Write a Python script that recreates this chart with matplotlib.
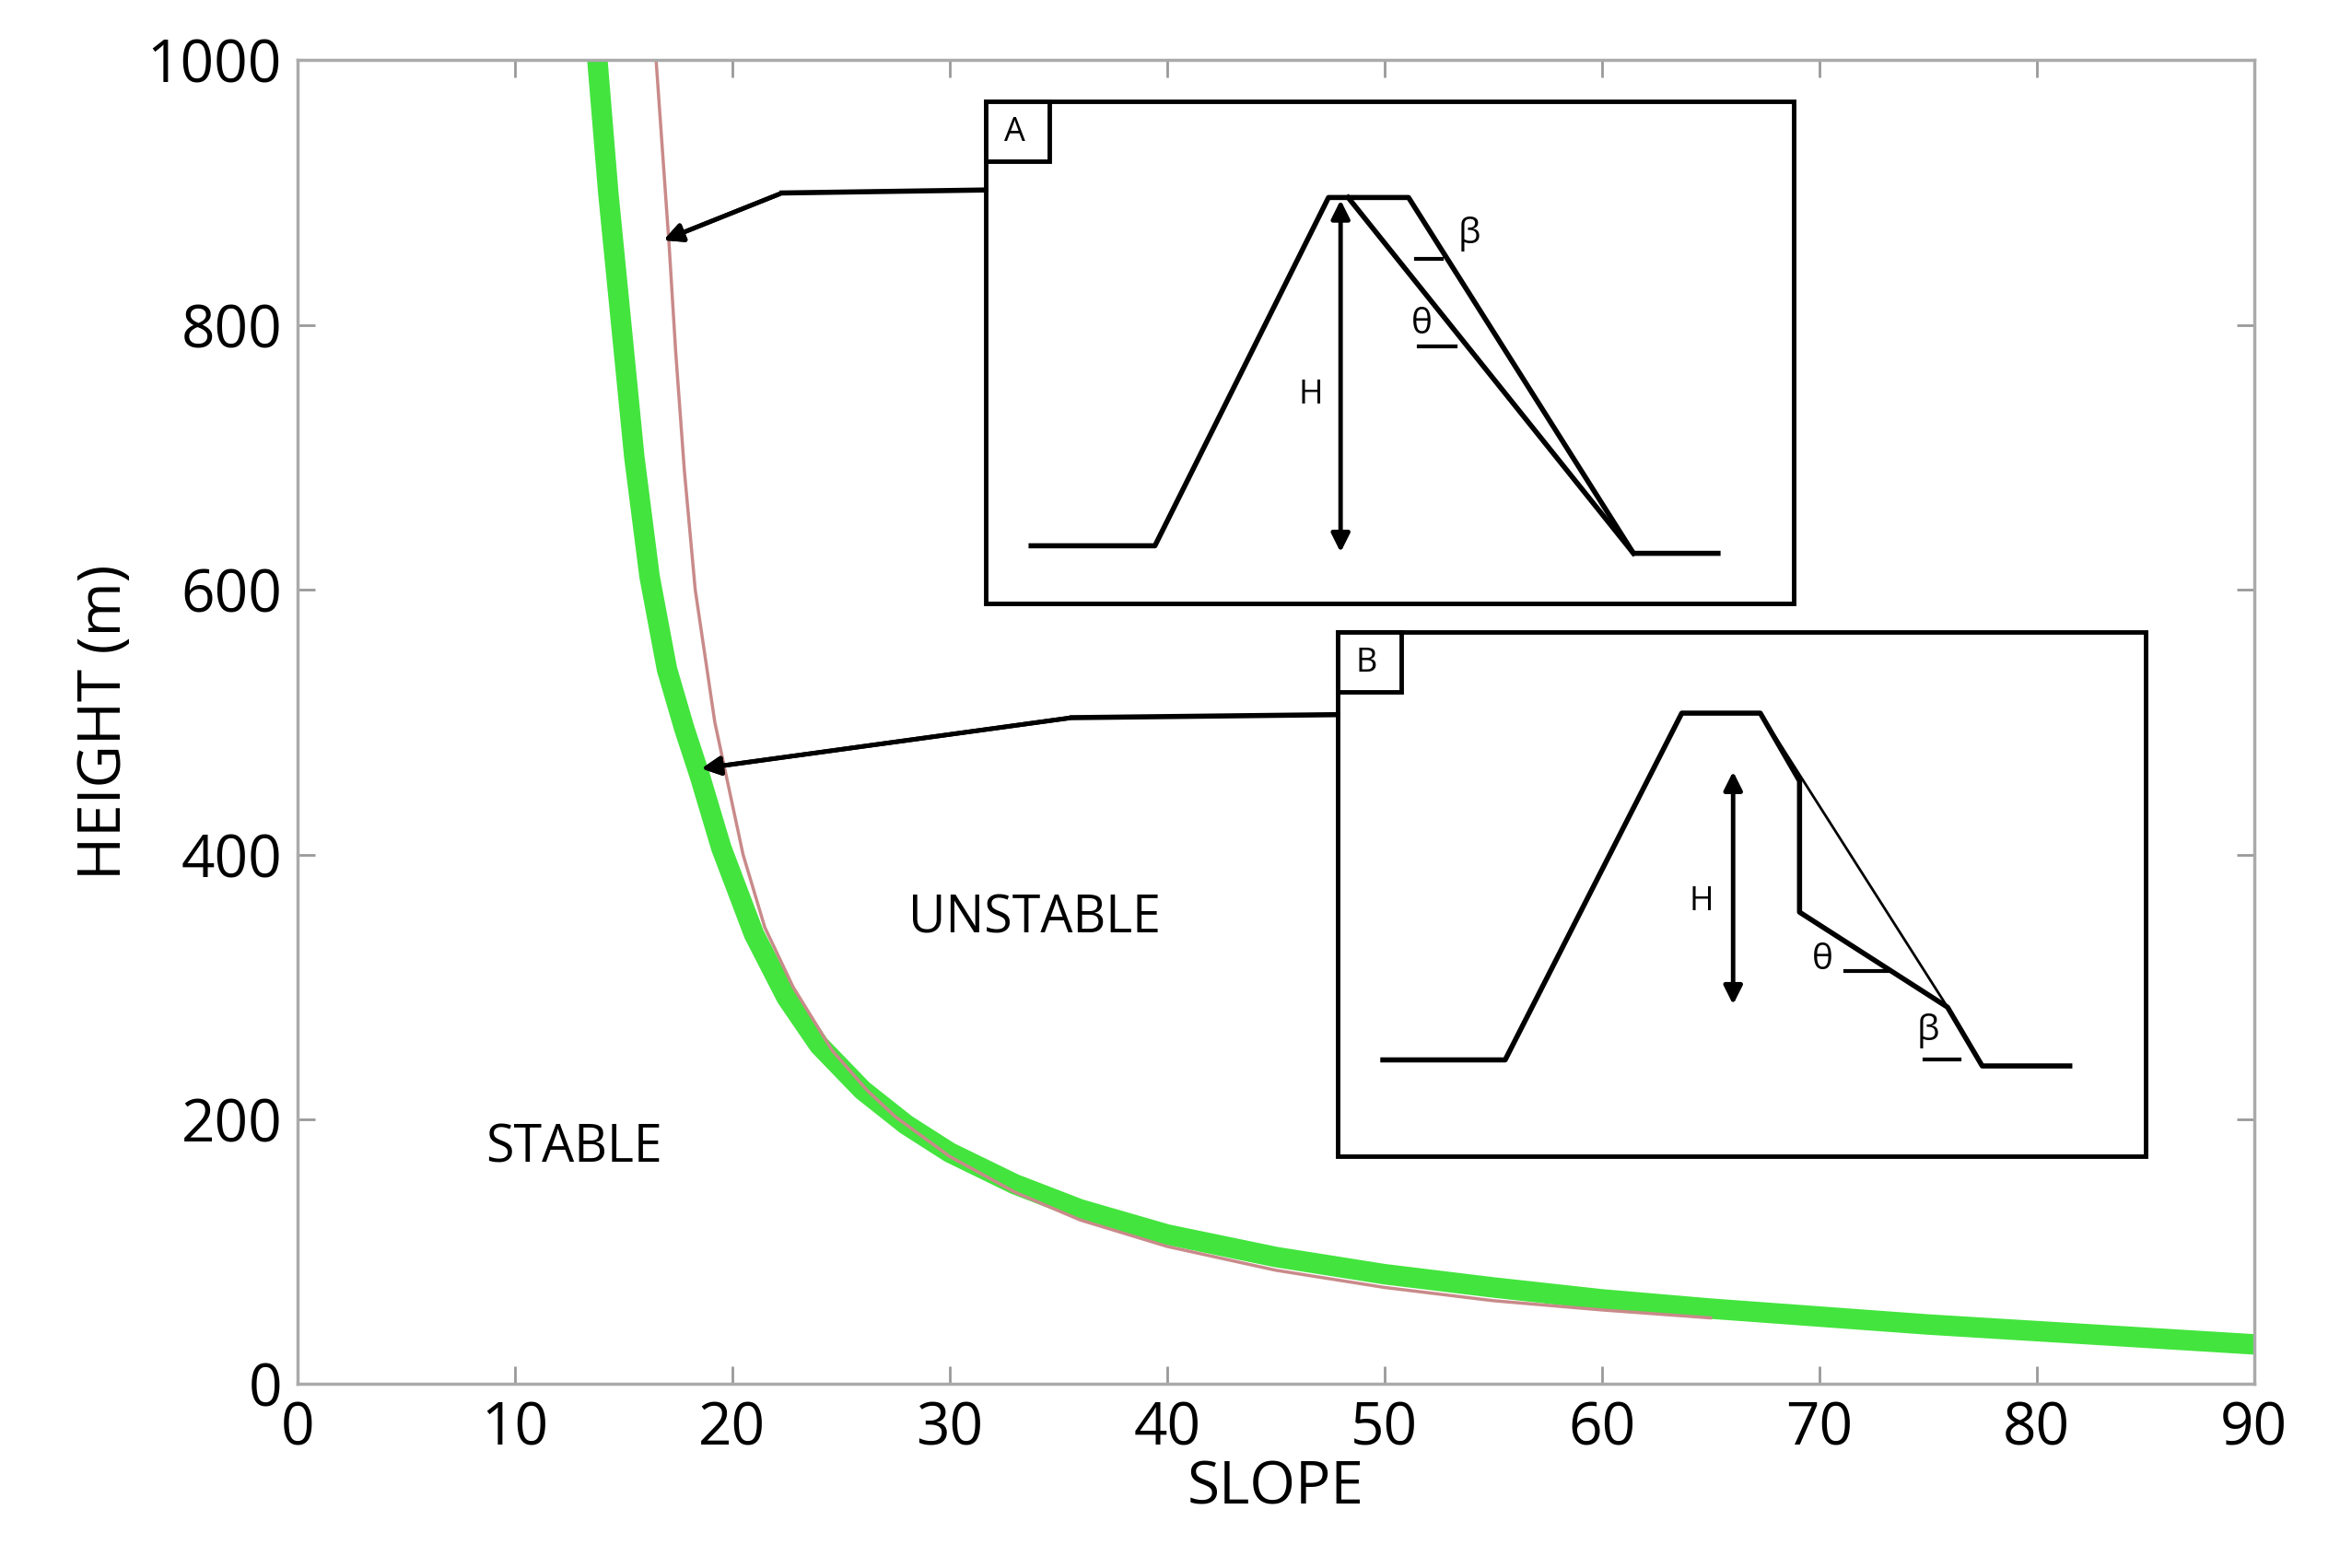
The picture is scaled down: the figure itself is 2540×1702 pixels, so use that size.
import matplotlib.pyplot as plt
import numpy as np

# curve readings (slope deg, height m)
green_slope = [13.8, 14.3, 14.9, 15.5, 16.2, 17.0, 17.8, 18.5, 19.5, 21, 22.5, 24, 26, 28, 30, 33, 36, 40, 45, 50, 55, 60, 65, 70, 75, 80, 85, 90]
green_height = [1000, 900, 800, 700, 610, 540, 495, 460, 405, 340, 292, 256, 222, 196, 175, 151, 132, 113, 96, 83, 73, 64, 57, 51, 45, 40, 35, 30]
red_slope = [16.5, 16.8, 17.1, 17.4, 17.8, 18.3, 19.2, 20.5, 21.5, 22.8, 24.6, 26.2, 27.5, 30, 33, 36, 40, 45, 50, 55, 60, 65]
red_height = [1000, 930, 860, 780, 690, 600, 500, 400, 345, 300, 252, 222, 202, 172, 145, 124, 104, 86, 73, 63, 56, 50]

xticks = [0, 10, 20, 30, 40, 50, 60, 70, 80, 90]
yticks = [0, 200, 400, 600, 800, 1000]

# inset diagrams, reference pixel coords (1550x1040 scale)
a_box = (653, 67, 1188, 400)
a_profile = [(683, 362), (765, 362), (880, 131), (933, 131), (1082, 367), (1138, 367)]
a_inner = [(893, 131), (1082, 367)]
b_box = (886, 419, 1421, 767)
b_profile = [(916, 703), (997, 703), (1114, 473), (1166, 473), (1192, 518), (1192, 605), (1290, 668), (1313, 707), (1371, 707)]
b_thin = [(1166, 473), (1290, 668)]

W, H = 1550.0, 1040.0
def fx(px): return px / W
def fy(py): return 1 - py / H

fig = plt.figure(figsize=(25.4, 17.02), dpi=100)
plt.rcParams['font.family'] = ['Open Sans', 'DejaVu Sans']
ax = fig.add_axes([fx(197), fy(918), fx(1493) - fx(197), fy(40) - fy(918)])
ax.plot(green_slope, green_height, color='#22e01c', lw=16, alpha=0.85, solid_capstyle='butt', solid_joinstyle='round')
ax.plot(red_slope, red_height, color='#c98a8a', lw=2.5)
ax.set_xlim(0, 90)
ax.set_ylim(0, 1000)
ax.set_xticks(xticks)
ax.set_yticks(yticks)
ax.tick_params(direction='in', length=14, width=2, color='#999999', labelsize=46, top=True, right=True, pad=12)
for s in ax.spines.values():
    s.set_color('#aaaaaa')
    s.set_linewidth(2.5)
ax.set_xlabel('SLOPE', fontsize=46, labelpad=0)
ax.set_ylabel('HEIGHT (m)', fontsize=46, labelpad=10)
ax.text(12.7, 178, 'STABLE', fontsize=40, ha='center', va='center')
ax.text(33.9, 351, 'UNSTABLE', fontsize=40, ha='center', va='center')

def pts(lst):
    return [fx(p[0]) for p in lst], [fy(p[1]) for p in lst]

def box(b, label):
    x0, y0, x1, y1 = b
    fig.patches.append(plt.Rectangle((fx(x0), fy(y1)), fx(x1) - fx(x0), fy(y0) - fy(y1),
                                     transform=fig.transFigure, fc='white', ec='black', lw=3.5))
    fig.patches.append(plt.Rectangle((fx(x0), fy(y0 + 40)), fx(42), fy(y0) - fy(y0 + 40),
                                     transform=fig.transFigure, fc='white', ec='black', lw=3.5))
    fig.text(fx(x0 + 19), fy(y0 + 21), label, fontsize=26, ha='center', va='center')

def line(lst, lw=4):
    xs, ys = pts(lst)
    fig.add_artist(plt.Line2D(xs, ys, transform=fig.transFigure, color='black', lw=lw))

def darrow(x, y0, y1):
    fig.add_artist(plt.annotate('', xy=(fx(x), fy(y1)), xytext=(fx(x), fy(y0)), xycoords='figure fraction',
                                arrowprops=dict(arrowstyle='<|-|>', lw=3.5, color='black', mutation_scale=30)))

def note(lst):
    # polyline ending in arrowhead
    line(lst[:-1])
    fig.add_artist(plt.annotate('', xy=(fx(lst[-1][0]), fy(lst[-1][1])), xytext=(fx(lst[-2][0]), fy(lst[-2][1])),
                                xycoords='figure fraction',
                                arrowprops=dict(arrowstyle='-|>', lw=3.5, color='black', mutation_scale=30)))

note([(653, 126), (518, 128), (438, 160)])
note([(886, 474), (710, 476), (463, 510)])

box(a_box, 'A')
line(a_profile)
line(a_inner)
darrow(888, 131, 368)
fig.text(fx(868), fy(262), 'H', fontsize=26, ha='center', va='center')
fig.text(fx(973), fy(155), 'β', fontsize=28, ha='center', va='center')
fig.text(fx(942), fy(215), 'θ', fontsize=28, ha='center', va='center')
line([(938, 172), (955, 172)], 3)
line([(940, 230), (964, 230)], 3)

box(b_box, 'B')
line(b_profile)
line(b_thin, 2)
darrow(1148, 510, 668)
fig.text(fx(1127), fy(598), 'H', fontsize=26, ha='center', va='center')
fig.text(fx(1207), fy(637), 'θ', fontsize=28, ha='center', va='center')
fig.text(fx(1277), fy(684), 'β', fontsize=28, ha='center', va='center')
line([(1222, 644), (1252, 644)], 3)
line([(1275, 703), (1298, 703)], 3)

fig.savefig('out.png')
